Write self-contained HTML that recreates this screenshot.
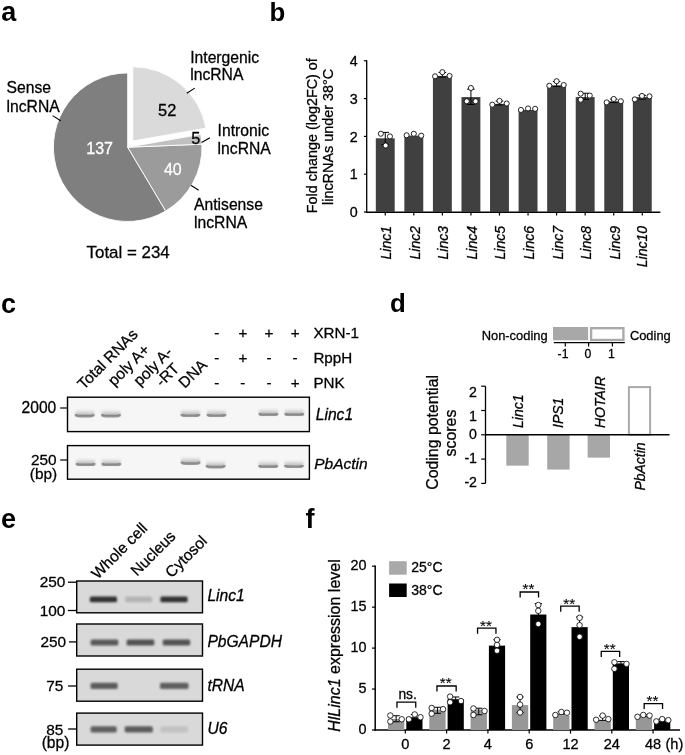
<!DOCTYPE html>
<html><head><meta charset="utf-8"><style>
html,body{margin:0;padding:0;background:#fff;}
svg{display:block;font-family:"Liberation Sans", sans-serif;will-change:transform;}
</style></head><body>
<svg width="685" height="755" viewBox="0 0 685 755">
<rect width="685" height="755" fill="#fff"/>
<text x="1.30" y="21.30" font-size="27" font-weight="bold">a</text>
<text x="269.40" y="21.30" font-size="25.8" font-weight="bold">b</text>
<text x="1.00" y="312.80" font-size="27" font-weight="bold">c</text>
<text x="389.90" y="312.30" font-size="25.8" font-weight="bold">d</text>
<text x="1.00" y="527.60" font-size="27" font-weight="bold">e</text>
<text x="305.50" y="527.80" font-size="27" font-weight="bold">f</text>
<path d="M127.70,147.20 L165.71,211.04 A74.3,74.3 0 1 1 127.70,72.90 Z" fill="#7f7f7f" stroke="#fff" stroke-width="0.9" stroke-linejoin="miter"/>
<path d="M127.70,147.20 L201.94,144.21 A74.3,74.3 0 0 1 165.71,211.04 Z" fill="#9b9b9b" stroke="#fff" stroke-width="0.9" stroke-linejoin="miter"/>
<path d="M127.70,147.20 L200.87,134.30 A74.3,74.3 0 0 1 201.94,144.21 Z" fill="#c0c0c0" stroke="#fff" stroke-width="0.9" stroke-linejoin="miter"/>
<path d="M132.84,141.07 L132.84,66.77 A74.3,74.3 0 0 1 206.01,128.17 Z" fill="#dadada" stroke="#fff" stroke-width="0.9" stroke-linejoin="miter"/>
<text x="6.50" y="93.20" font-size="15.7" stroke="#000" stroke-width="0.28">Sense</text>
<text x="6.50" y="111.90" font-size="15.7" stroke="#000" stroke-width="0.28">lncRNA</text>
<line x1="52.60" y1="115.60" x2="60.70" y2="120.70" stroke="#000" stroke-width="1.1"/>
<text x="190.20" y="62.60" font-size="15.7" stroke="#000" stroke-width="0.28">Intergenic</text>
<text x="190.20" y="80.20" font-size="15.7" stroke="#000" stroke-width="0.28">lncRNA</text>
<line x1="186.80" y1="93.20" x2="194.80" y2="88.10" stroke="#000" stroke-width="1.1"/>
<text x="217.60" y="136.00" font-size="15.7" stroke="#000" stroke-width="0.28">Intronic</text>
<text x="217.60" y="153.50" font-size="15.7" stroke="#000" stroke-width="0.28">lncRNA</text>
<line x1="201.60" y1="142.40" x2="209.90" y2="137.70" stroke="#000" stroke-width="1.1"/>
<text x="194.00" y="210.20" font-size="15.7" stroke="#000" stroke-width="0.28">Antisense</text>
<text x="194.00" y="228.00" font-size="15.7" stroke="#000" stroke-width="0.28">lncRNA</text>
<line x1="190.90" y1="185.20" x2="198.70" y2="190.30" stroke="#000" stroke-width="1.1"/>
<text x="167.20" y="116.00" font-size="16.4" stroke="#000" stroke-width="0.28" text-anchor="middle">52</text>
<text x="195.90" y="143.60" font-size="16.3" stroke="#000" stroke-width="0.28" text-anchor="middle">5</text>
<text x="99.60" y="154.10" font-size="16" stroke="#fff" stroke-width="0.28" text-anchor="middle" fill="#fff">137</text>
<text x="172.80" y="175.40" font-size="16" stroke="#fff" stroke-width="0.28" text-anchor="middle" fill="#fff">40</text>
<text x="86.60" y="257.60" font-size="16.9" stroke="#000" stroke-width="0.28">Total = 234</text>
<line x1="366.70" y1="60.20" x2="366.70" y2="213.00" stroke="#000" stroke-width="1.3"/>
<line x1="365.90" y1="212.30" x2="660.40" y2="212.30" stroke="#000" stroke-width="1.5"/>
<line x1="363.90" y1="212.00" x2="366.70" y2="212.00" stroke="#000" stroke-width="1.2"/>
<text x="357.60" y="217.10" font-size="14.3" stroke="#000" stroke-width="0.28" text-anchor="end">0</text>
<line x1="363.90" y1="174.20" x2="366.70" y2="174.20" stroke="#000" stroke-width="1.2"/>
<text x="357.60" y="179.30" font-size="14.3" stroke="#000" stroke-width="0.28" text-anchor="end">1</text>
<line x1="363.90" y1="136.40" x2="366.70" y2="136.40" stroke="#000" stroke-width="1.2"/>
<text x="357.60" y="141.50" font-size="14.3" stroke="#000" stroke-width="0.28" text-anchor="end">2</text>
<line x1="363.90" y1="98.60" x2="366.70" y2="98.60" stroke="#000" stroke-width="1.2"/>
<text x="357.60" y="103.70" font-size="14.3" stroke="#000" stroke-width="0.28" text-anchor="end">3</text>
<line x1="363.90" y1="60.80" x2="366.70" y2="60.80" stroke="#000" stroke-width="1.2"/>
<text x="357.60" y="65.90" font-size="14.3" stroke="#000" stroke-width="0.28" text-anchor="end">4</text>
<rect x="375.80" y="138.29" width="18.90" height="73.71" fill="#404040"/>
<line x1="385.25" y1="212.00" x2="385.25" y2="215.60" stroke="#000" stroke-width="1.2"/>
<line x1="385.25" y1="132.40" x2="385.25" y2="144.69" stroke="#000" stroke-width="1.0"/>
<line x1="381.45" y1="132.40" x2="389.05" y2="132.40" stroke="#000" stroke-width="1.0"/>
<line x1="381.45" y1="144.69" x2="389.05" y2="144.69" stroke="#000" stroke-width="1.0"/>
<circle cx="380.85" cy="133.75" r="2.55" fill="#fff" stroke="#000" stroke-width="0.85"/>
<circle cx="389.95" cy="136.40" r="2.55" fill="#fff" stroke="#000" stroke-width="0.85"/>
<circle cx="385.65" cy="145.47" r="2.55" fill="#fff" stroke="#000" stroke-width="0.85"/>
<text x="391.15" y="226.00" font-size="14" stroke="#000" stroke-width="0.28" text-anchor="end" font-style="italic" transform="rotate(-90 391.15 226.00)">Linc1</text>
<rect x="404.36" y="135.64" width="18.90" height="76.36" fill="#404040"/>
<line x1="413.81" y1="212.00" x2="413.81" y2="215.60" stroke="#000" stroke-width="1.2"/>
<circle cx="406.61" cy="135.27" r="2.55" fill="#fff" stroke="#000" stroke-width="0.85"/>
<circle cx="413.81" cy="133.75" r="2.55" fill="#fff" stroke="#000" stroke-width="0.85"/>
<circle cx="421.21" cy="135.64" r="2.55" fill="#fff" stroke="#000" stroke-width="0.85"/>
<text x="419.71" y="226.00" font-size="14" stroke="#000" stroke-width="0.28" text-anchor="end" font-style="italic" transform="rotate(-90 419.71 226.00)">Linc2</text>
<rect x="432.92" y="75.92" width="18.90" height="136.08" fill="#404040"/>
<line x1="442.37" y1="212.00" x2="442.37" y2="215.60" stroke="#000" stroke-width="1.2"/>
<line x1="442.37" y1="72.49" x2="442.37" y2="77.09" stroke="#000" stroke-width="1.0"/>
<line x1="438.57" y1="72.49" x2="446.17" y2="72.49" stroke="#000" stroke-width="1.0"/>
<line x1="438.57" y1="77.09" x2="446.17" y2="77.09" stroke="#000" stroke-width="1.0"/>
<circle cx="435.07" cy="76.30" r="2.55" fill="#fff" stroke="#000" stroke-width="0.85"/>
<circle cx="442.37" cy="72.14" r="2.55" fill="#fff" stroke="#000" stroke-width="0.85"/>
<circle cx="449.57" cy="75.92" r="2.55" fill="#fff" stroke="#000" stroke-width="0.85"/>
<text x="448.27" y="226.00" font-size="14" stroke="#000" stroke-width="0.28" text-anchor="end" font-style="italic" transform="rotate(-90 448.27 226.00)">Linc3</text>
<rect x="461.48" y="97.09" width="18.90" height="114.91" fill="#404040"/>
<line x1="470.93" y1="212.00" x2="470.93" y2="215.60" stroke="#000" stroke-width="1.2"/>
<line x1="470.93" y1="89.20" x2="470.93" y2="104.47" stroke="#000" stroke-width="1.0"/>
<line x1="467.13" y1="89.20" x2="474.73" y2="89.20" stroke="#000" stroke-width="1.0"/>
<line x1="467.13" y1="104.47" x2="474.73" y2="104.47" stroke="#000" stroke-width="1.0"/>
<circle cx="466.73" cy="101.25" r="2.55" fill="#fff" stroke="#000" stroke-width="0.85"/>
<circle cx="475.63" cy="101.25" r="2.55" fill="#fff" stroke="#000" stroke-width="0.85"/>
<circle cx="470.93" cy="88.02" r="2.55" fill="#fff" stroke="#000" stroke-width="0.85"/>
<text x="476.83" y="226.00" font-size="14" stroke="#000" stroke-width="0.28" text-anchor="end" font-style="italic" transform="rotate(-90 476.83 226.00)">Linc4</text>
<rect x="490.04" y="103.89" width="18.90" height="108.11" fill="#404040"/>
<line x1="499.49" y1="212.00" x2="499.49" y2="215.60" stroke="#000" stroke-width="1.2"/>
<line x1="499.49" y1="101.07" x2="499.49" y2="104.95" stroke="#000" stroke-width="1.0"/>
<line x1="495.69" y1="101.07" x2="503.29" y2="101.07" stroke="#000" stroke-width="1.0"/>
<line x1="495.69" y1="104.95" x2="503.29" y2="104.95" stroke="#000" stroke-width="1.0"/>
<circle cx="492.29" cy="104.65" r="2.55" fill="#fff" stroke="#000" stroke-width="0.85"/>
<circle cx="499.49" cy="100.87" r="2.55" fill="#fff" stroke="#000" stroke-width="0.85"/>
<circle cx="506.69" cy="103.51" r="2.55" fill="#fff" stroke="#000" stroke-width="0.85"/>
<text x="505.39" y="226.00" font-size="14" stroke="#000" stroke-width="0.28" text-anchor="end" font-style="italic" transform="rotate(-90 505.39 226.00)">Linc5</text>
<rect x="518.60" y="109.94" width="18.90" height="102.06" fill="#404040"/>
<line x1="528.05" y1="212.00" x2="528.05" y2="215.60" stroke="#000" stroke-width="1.2"/>
<circle cx="520.95" cy="109.94" r="2.55" fill="#fff" stroke="#000" stroke-width="0.85"/>
<circle cx="528.05" cy="108.43" r="2.55" fill="#fff" stroke="#000" stroke-width="0.85"/>
<circle cx="535.15" cy="108.81" r="2.55" fill="#fff" stroke="#000" stroke-width="0.85"/>
<text x="533.95" y="226.00" font-size="14" stroke="#000" stroke-width="0.28" text-anchor="end" font-style="italic" transform="rotate(-90 533.95 226.00)">Linc6</text>
<rect x="547.16" y="85.37" width="18.90" height="126.63" fill="#404040"/>
<line x1="556.61" y1="212.00" x2="556.61" y2="215.60" stroke="#000" stroke-width="1.2"/>
<line x1="556.61" y1="81.55" x2="556.61" y2="86.41" stroke="#000" stroke-width="1.0"/>
<line x1="552.81" y1="81.55" x2="560.41" y2="81.55" stroke="#000" stroke-width="1.0"/>
<line x1="552.81" y1="86.41" x2="560.41" y2="86.41" stroke="#000" stroke-width="1.0"/>
<circle cx="549.31" cy="85.75" r="2.55" fill="#fff" stroke="#000" stroke-width="0.85"/>
<circle cx="556.61" cy="81.21" r="2.55" fill="#fff" stroke="#000" stroke-width="0.85"/>
<circle cx="563.71" cy="84.99" r="2.55" fill="#fff" stroke="#000" stroke-width="0.85"/>
<text x="562.51" y="226.00" font-size="14" stroke="#000" stroke-width="0.28" text-anchor="end" font-style="italic" transform="rotate(-90 562.51 226.00)">Linc7</text>
<rect x="575.72" y="97.09" width="18.90" height="114.91" fill="#404040"/>
<line x1="585.17" y1="212.00" x2="585.17" y2="215.60" stroke="#000" stroke-width="1.2"/>
<line x1="585.17" y1="93.24" x2="585.17" y2="99.43" stroke="#000" stroke-width="1.0"/>
<line x1="581.37" y1="93.24" x2="588.97" y2="93.24" stroke="#000" stroke-width="1.0"/>
<line x1="581.37" y1="99.43" x2="588.97" y2="99.43" stroke="#000" stroke-width="1.0"/>
<circle cx="580.67" cy="93.69" r="2.55" fill="#fff" stroke="#000" stroke-width="0.85"/>
<circle cx="580.67" cy="99.73" r="2.55" fill="#fff" stroke="#000" stroke-width="0.85"/>
<circle cx="589.77" cy="95.58" r="2.55" fill="#fff" stroke="#000" stroke-width="0.85"/>
<text x="591.07" y="226.00" font-size="14" stroke="#000" stroke-width="0.28" text-anchor="end" font-style="italic" transform="rotate(-90 591.07 226.00)">Linc8</text>
<rect x="604.28" y="101.25" width="18.90" height="110.75" fill="#404040"/>
<line x1="613.73" y1="212.00" x2="613.73" y2="215.60" stroke="#000" stroke-width="1.2"/>
<line x1="613.73" y1="99.14" x2="613.73" y2="102.60" stroke="#000" stroke-width="1.0"/>
<line x1="609.93" y1="99.14" x2="617.53" y2="99.14" stroke="#000" stroke-width="1.0"/>
<line x1="609.93" y1="102.60" x2="617.53" y2="102.60" stroke="#000" stroke-width="1.0"/>
<circle cx="606.63" cy="102.38" r="2.55" fill="#fff" stroke="#000" stroke-width="0.85"/>
<circle cx="613.73" cy="98.98" r="2.55" fill="#fff" stroke="#000" stroke-width="0.85"/>
<circle cx="620.83" cy="101.25" r="2.55" fill="#fff" stroke="#000" stroke-width="0.85"/>
<text x="619.63" y="226.00" font-size="14" stroke="#000" stroke-width="0.28" text-anchor="end" font-style="italic" transform="rotate(-90 619.63 226.00)">Linc9</text>
<rect x="632.84" y="97.09" width="18.90" height="114.91" fill="#404040"/>
<line x1="642.29" y1="212.00" x2="642.29" y2="215.60" stroke="#000" stroke-width="1.2"/>
<line x1="642.29" y1="95.35" x2="642.29" y2="99.08" stroke="#000" stroke-width="1.0"/>
<line x1="638.49" y1="95.35" x2="646.09" y2="95.35" stroke="#000" stroke-width="1.0"/>
<line x1="638.49" y1="99.08" x2="646.09" y2="99.08" stroke="#000" stroke-width="1.0"/>
<circle cx="634.79" cy="99.36" r="2.55" fill="#fff" stroke="#000" stroke-width="0.85"/>
<circle cx="641.99" cy="95.95" r="2.55" fill="#fff" stroke="#000" stroke-width="0.85"/>
<circle cx="649.49" cy="96.33" r="2.55" fill="#fff" stroke="#000" stroke-width="0.85"/>
<text x="646.99" y="226.00" font-size="14" stroke="#000" stroke-width="0.28" text-anchor="end" font-style="italic" transform="rotate(-90 646.99 226.00)">Linc10</text>
<text x="317.20" y="135.70" font-size="14.4" stroke="#000" stroke-width="0.28" text-anchor="middle" transform="rotate(-90 317.20 135.70)">Fold change (log2FC) of</text>
<text x="332.80" y="136.90" font-size="14.4" stroke="#000" stroke-width="0.28" text-anchor="middle" transform="rotate(-90 332.80 136.90)">lincRNAs under 38°C</text>
<defs><filter id="bl" x="-20%" y="-100%" width="140%" height="300%"><feGaussianBlur stdDeviation="0.6"/></filter><filter id="bl2" x="-20%" y="-100%" width="140%" height="300%"><feGaussianBlur stdDeviation="0.9"/></filter><filter id="bl4" x="-20%" y="-100%" width="140%" height="300%"><feGaussianBlur stdDeviation="1.3"/></filter><filter id="bl5" x="-20%" y="-100%" width="140%" height="300%"><feGaussianBlur stdDeviation="0.45"/></filter><filter id="bl3" x="-20%" y="-100%" width="140%" height="300%"><feGaussianBlur stdDeviation="0.85"/></filter><linearGradient id="bg1" x1="0" y1="0" x2="0" y2="1"><stop offset="0" stop-color="#000" stop-opacity="0"/><stop offset="0.2" stop-color="#000" stop-opacity="0.04"/><stop offset="0.6" stop-color="#000" stop-opacity="0.17"/><stop offset="1" stop-color="#000" stop-opacity="0.32"/></linearGradient></defs>
<rect x="67.50" y="397.20" width="241.90" height="34.40" fill="#f6f6f6" stroke="#000" stroke-width="1.4"/>
<rect x="67.50" y="445.60" width="241.90" height="33.60" fill="#f6f6f6" stroke="#000" stroke-width="1.4"/>
<rect x="75.20" y="409.20" width="19.00" height="7.00" rx="2" fill="url(#bg1)" filter="url(#bl3)"/>
<path d="M76.10,415.30 Q77.10,416.20 80.90,416.20 H88.50 Q92.30,416.20 93.30,415.30" fill="none" stroke="#000" stroke-opacity="0.33" stroke-width="2.8" stroke-linecap="round" filter="url(#bl5)"/>
<rect x="101.50" y="409.20" width="19.00" height="7.00" rx="2" fill="url(#bg1)" filter="url(#bl3)"/>
<path d="M102.40,415.30 Q103.40,416.20 107.20,416.20 H114.80 Q118.60,416.20 119.60,415.30" fill="none" stroke="#000" stroke-opacity="0.33" stroke-width="2.8" stroke-linecap="round" filter="url(#bl5)"/>
<rect x="180.90" y="408.80" width="19.00" height="7.00" rx="2" fill="url(#bg1)" filter="url(#bl3)"/>
<path d="M181.80,414.90 Q182.80,415.80 186.60,415.80 H194.20 Q198.00,415.80 199.00,414.90" fill="none" stroke="#000" stroke-opacity="0.33" stroke-width="2.8" stroke-linecap="round" filter="url(#bl5)"/>
<rect x="207.00" y="408.80" width="19.00" height="7.00" rx="2" fill="url(#bg1)" filter="url(#bl3)"/>
<path d="M207.90,414.90 Q208.90,415.80 212.70,415.80 H220.30 Q224.10,415.80 225.10,414.90" fill="none" stroke="#000" stroke-opacity="0.33" stroke-width="2.8" stroke-linecap="round" filter="url(#bl5)"/>
<rect x="258.90" y="408.00" width="19.00" height="7.00" rx="2" fill="url(#bg1)" filter="url(#bl3)"/>
<path d="M259.80,414.10 Q260.80,415.00 264.60,415.00 H272.20 Q276.00,415.00 277.00,414.10" fill="none" stroke="#000" stroke-opacity="0.33" stroke-width="2.8" stroke-linecap="round" filter="url(#bl5)"/>
<rect x="284.80" y="408.00" width="19.00" height="7.00" rx="2" fill="url(#bg1)" filter="url(#bl3)"/>
<path d="M285.70,414.10 Q286.70,415.00 290.50,415.00 H298.10 Q301.90,415.00 302.90,414.10" fill="none" stroke="#000" stroke-opacity="0.33" stroke-width="2.8" stroke-linecap="round" filter="url(#bl5)"/>
<rect x="76.10" y="458.00" width="19.00" height="7.00" rx="2" fill="url(#bg1)" filter="url(#bl3)"/>
<path d="M77.00,464.10 Q78.00,465.00 81.80,465.00 H89.40 Q93.20,465.00 94.20,464.10" fill="none" stroke="#000" stroke-opacity="0.33" stroke-width="2.8" stroke-linecap="round" filter="url(#bl5)"/>
<rect x="101.80" y="458.00" width="19.00" height="7.00" rx="2" fill="url(#bg1)" filter="url(#bl3)"/>
<path d="M102.70,464.10 Q103.70,465.00 107.50,465.00 H115.10 Q118.90,465.00 119.90,464.10" fill="none" stroke="#000" stroke-opacity="0.33" stroke-width="2.8" stroke-linecap="round" filter="url(#bl5)"/>
<rect x="181.10" y="456.60" width="19.00" height="7.00" rx="2" fill="url(#bg1)" filter="url(#bl3)"/>
<path d="M182.00,462.70 Q183.00,463.60 186.80,463.60 H194.40 Q198.20,463.60 199.20,462.70" fill="none" stroke="#000" stroke-opacity="0.33" stroke-width="2.8" stroke-linecap="round" filter="url(#bl5)"/>
<rect x="206.10" y="460.20" width="19.00" height="7.00" rx="2" fill="url(#bg1)" filter="url(#bl3)"/>
<path d="M207.00,466.30 Q208.00,467.20 211.80,467.20 H219.40 Q223.20,467.20 224.20,466.30" fill="none" stroke="#000" stroke-opacity="0.33" stroke-width="2.8" stroke-linecap="round" filter="url(#bl5)"/>
<rect x="258.70" y="460.00" width="19.00" height="7.00" rx="2" fill="url(#bg1)" filter="url(#bl3)"/>
<path d="M259.60,466.10 Q260.60,467.00 264.40,467.00 H272.00 Q275.80,467.00 276.80,466.10" fill="none" stroke="#000" stroke-opacity="0.33" stroke-width="2.8" stroke-linecap="round" filter="url(#bl5)"/>
<rect x="284.50" y="459.80" width="19.00" height="7.00" rx="2" fill="url(#bg1)" filter="url(#bl3)"/>
<path d="M285.40,465.90 Q286.40,466.80 290.20,466.80 H297.80 Q301.60,466.80 302.60,465.90" fill="none" stroke="#000" stroke-opacity="0.33" stroke-width="2.8" stroke-linecap="round" filter="url(#bl5)"/>
<line x1="60.20" y1="408.00" x2="67.50" y2="408.00" stroke="#000" stroke-width="1.2"/>
<text x="56.30" y="413.20" font-size="15.6" stroke="#000" stroke-width="0.28" text-anchor="end">2000</text>
<line x1="60.20" y1="460.00" x2="67.50" y2="460.00" stroke="#000" stroke-width="1.2"/>
<text x="56.60" y="465.00" font-size="15.4" stroke="#000" stroke-width="0.28" text-anchor="end">250</text>
<text x="57.20" y="478.60" font-size="15.4" stroke="#000" stroke-width="0.28" text-anchor="end">(bp)</text>
<text x="315.80" y="419.70" font-size="15.6" stroke="#000" stroke-width="0.28" font-style="italic">Linc1</text>
<text x="314.20" y="468.80" font-size="15.5" stroke="#000" stroke-width="0.28" font-style="italic">PbActin</text>
<text x="83.80" y="390.20" font-size="15.5" stroke="#000" stroke-width="0.28" transform="rotate(-45 83.80 390.20)">Total RNAs</text>
<text x="114.30" y="386.80" font-size="15.5" stroke="#000" stroke-width="0.28" transform="rotate(-45 114.30 386.80)">poly A+</text>
<text x="139.80" y="386.80" font-size="15.5" stroke="#000" stroke-width="0.28" transform="rotate(-45 139.80 386.80)">poly A-</text>
<text x="162.10" y="387.50" font-size="15.5" stroke="#000" stroke-width="0.28" transform="rotate(-45 162.10 387.50)">-RT</text>
<text x="184.80" y="389.00" font-size="15.5" stroke="#000" stroke-width="0.28" transform="rotate(-45 184.80 389.00)">DNA</text>
<text x="216.80" y="338.20" font-size="15.2" stroke="#000" stroke-width="0.28" text-anchor="middle">-</text>
<text x="242.90" y="338.20" font-size="15.2" stroke="#000" stroke-width="0.28" text-anchor="middle">+</text>
<text x="269.00" y="338.20" font-size="15.2" stroke="#000" stroke-width="0.28" text-anchor="middle">+</text>
<text x="295.10" y="338.20" font-size="15.2" stroke="#000" stroke-width="0.28" text-anchor="middle">+</text>
<text x="313.40" y="338.20" font-size="15.2" stroke="#000" stroke-width="0.28">XRN-1</text>
<text x="216.80" y="362.90" font-size="15.2" stroke="#000" stroke-width="0.28" text-anchor="middle">-</text>
<text x="242.90" y="362.90" font-size="15.2" stroke="#000" stroke-width="0.28" text-anchor="middle">+</text>
<text x="269.00" y="362.90" font-size="15.2" stroke="#000" stroke-width="0.28" text-anchor="middle">-</text>
<text x="295.10" y="362.90" font-size="15.2" stroke="#000" stroke-width="0.28" text-anchor="middle">-</text>
<text x="313.40" y="362.90" font-size="15.2" stroke="#000" stroke-width="0.28">RppH</text>
<text x="216.80" y="388.30" font-size="15.2" stroke="#000" stroke-width="0.28" text-anchor="middle">-</text>
<text x="242.90" y="388.30" font-size="15.2" stroke="#000" stroke-width="0.28" text-anchor="middle">-</text>
<text x="269.00" y="388.30" font-size="15.2" stroke="#000" stroke-width="0.28" text-anchor="middle">-</text>
<text x="295.10" y="388.30" font-size="15.2" stroke="#000" stroke-width="0.28" text-anchor="middle">+</text>
<text x="313.40" y="388.30" font-size="15.2" stroke="#000" stroke-width="0.28">PNK</text>
<rect x="553.00" y="327.00" width="35.10" height="13.30" fill="#a8a8a8"/>
<rect x="591.10" y="328.20" width="32.30" height="11.80" fill="#fff" stroke="#aaaaaa" stroke-width="2.4"/>
<line x1="553.80" y1="342.60" x2="624.80" y2="342.60" stroke="#000" stroke-width="1.4"/>
<line x1="565.30" y1="342.60" x2="565.30" y2="346.60" stroke="#000" stroke-width="1.2"/>
<line x1="588.60" y1="342.60" x2="588.60" y2="346.60" stroke="#000" stroke-width="1.2"/>
<line x1="612.40" y1="342.60" x2="612.40" y2="346.60" stroke="#000" stroke-width="1.2"/>
<text x="563.00" y="358.30" font-size="12.2" stroke="#000" stroke-width="0.28" text-anchor="middle">-1</text>
<text x="587.80" y="358.30" font-size="12.2" stroke="#000" stroke-width="0.28" text-anchor="middle">0</text>
<text x="611.50" y="358.30" font-size="12.2" stroke="#000" stroke-width="0.28" text-anchor="middle">1</text>
<text x="547.60" y="340.10" font-size="12.9" stroke="#000" stroke-width="0.28" text-anchor="end">Non-coding</text>
<text x="629.90" y="339.60" font-size="12.9" stroke="#000" stroke-width="0.28">Coding</text>
<line x1="485.50" y1="386.20" x2="485.50" y2="483.40" stroke="#000" stroke-width="1.3"/>
<line x1="481.20" y1="386.20" x2="485.50" y2="386.20" stroke="#000" stroke-width="1.2"/>
<text x="477.00" y="396.70" font-size="14.2" stroke="#000" stroke-width="0.28" text-anchor="end">2</text>
<line x1="481.20" y1="410.50" x2="485.50" y2="410.50" stroke="#000" stroke-width="1.2"/>
<text x="477.00" y="420.50" font-size="14.2" stroke="#000" stroke-width="0.28" text-anchor="end">1</text>
<line x1="481.20" y1="434.80" x2="485.50" y2="434.80" stroke="#000" stroke-width="1.2"/>
<text x="477.00" y="438.80" font-size="14.2" stroke="#000" stroke-width="0.28" text-anchor="end">0</text>
<line x1="481.20" y1="459.10" x2="485.50" y2="459.10" stroke="#000" stroke-width="1.2"/>
<text x="477.00" y="463.10" font-size="14.2" stroke="#000" stroke-width="0.28" text-anchor="end">-1</text>
<line x1="481.20" y1="483.40" x2="485.50" y2="483.40" stroke="#000" stroke-width="1.2"/>
<text x="477.00" y="487.40" font-size="14.2" stroke="#000" stroke-width="0.28" text-anchor="end">-2</text>
<rect x="506.30" y="434.80" width="22.40" height="30.86" fill="#a7a7a7"/>
<rect x="547.20" y="434.80" width="22.40" height="34.75" fill="#a7a7a7"/>
<rect x="587.60" y="434.80" width="22.40" height="22.84" fill="#a7a7a7"/>
<rect x="628.90" y="387.10" width="21.20" height="47.70" fill="none" stroke="#aaaaaa" stroke-width="2"/>
<line x1="485.50" y1="434.80" x2="669.50" y2="434.80" stroke="#000" stroke-width="1.5"/>
<text x="522.90" y="428.00" font-size="14.0" stroke="#000" stroke-width="0.28" font-style="italic" transform="rotate(-90 522.90 428.00)">Linc1</text>
<text x="563.00" y="428.00" font-size="14.0" stroke="#000" stroke-width="0.28" font-style="italic" transform="rotate(-90 563.00 428.00)">IPS1</text>
<text x="605.00" y="428.00" font-size="14.0" stroke="#000" stroke-width="0.28" font-style="italic" transform="rotate(-90 605.00 428.00)">HOTAIR</text>
<text x="644.80" y="490.60" font-size="14.0" stroke="#000" stroke-width="0.28" font-style="italic" transform="rotate(-90 644.80 490.60)">PbActin</text>
<text x="438.20" y="432.40" font-size="15.9" stroke="#000" stroke-width="0.28" text-anchor="middle" transform="rotate(-90 438.20 432.40)">Coding potential</text>
<text x="455.80" y="433.00" font-size="15.9" stroke="#000" stroke-width="0.28" text-anchor="middle" transform="rotate(-90 455.80 433.00)">scores</text>
<rect x="76.70" y="581.00" width="125.80" height="31.80" fill="#d9d9d9" stroke="#000" stroke-width="1.4"/>
<rect x="76.70" y="624.00" width="125.80" height="32.00" fill="#d9d9d9" stroke="#000" stroke-width="1.4"/>
<rect x="76.70" y="669.20" width="125.80" height="32.00" fill="#d9d9d9" stroke="#000" stroke-width="1.4"/>
<rect x="76.70" y="713.10" width="125.80" height="32.00" fill="#d9d9d9" stroke="#000" stroke-width="1.4"/>
<rect x="89.80" y="596.45" width="27.20" height="5.90" rx="1.5" fill="#303030" filter="url(#bl2)"/>
<rect x="125.10" y="596.60" width="27.20" height="5.60" rx="1.5" fill="#b4b4b4" filter="url(#bl2)"/>
<rect x="160.40" y="596.45" width="27.20" height="5.90" rx="1.5" fill="#303030" filter="url(#bl2)"/>
<rect x="90.60" y="639.60" width="27.70" height="6.00" rx="1.5" fill="#585858" filter="url(#bl2)"/>
<rect x="126.60" y="639.60" width="27.70" height="6.00" rx="1.5" fill="#535353" filter="url(#bl2)"/>
<rect x="162.70" y="639.60" width="27.50" height="6.00" rx="1.5" fill="#535353" filter="url(#bl2)"/>
<rect x="90.60" y="682.80" width="27.10" height="6.20" rx="1.5" fill="#5c5c5c" filter="url(#bl4)"/>
<rect x="160.00" y="682.80" width="28.50" height="6.20" rx="1.5" fill="#5e5e5e" filter="url(#bl4)"/>
<rect x="90.60" y="726.20" width="26.10" height="6.20" rx="1.5" fill="#5e5e5e" filter="url(#bl4)"/>
<rect x="124.70" y="726.20" width="28.10" height="6.20" rx="1.5" fill="#5c5c5c" filter="url(#bl4)"/>
<rect x="160.40" y="726.20" width="27.50" height="6.20" rx="1.5" fill="#c2c2c2" filter="url(#bl4)"/>
<line x1="67.90" y1="582.20" x2="76.70" y2="582.20" stroke="#000" stroke-width="1.3"/>
<text x="65.40" y="587.40" font-size="15.4" stroke="#000" stroke-width="0.28" text-anchor="end">250</text>
<line x1="67.90" y1="610.50" x2="76.70" y2="610.50" stroke="#000" stroke-width="1.3"/>
<text x="65.40" y="615.70" font-size="15.4" stroke="#000" stroke-width="0.28" text-anchor="end">100</text>
<line x1="69.00" y1="641.90" x2="76.70" y2="641.90" stroke="#000" stroke-width="1.3"/>
<text x="66.10" y="647.10" font-size="15.4" stroke="#000" stroke-width="0.28" text-anchor="end">250</text>
<line x1="68.10" y1="686.00" x2="76.70" y2="686.00" stroke="#000" stroke-width="1.3"/>
<text x="63.30" y="691.20" font-size="15.4" stroke="#000" stroke-width="0.28" text-anchor="end">75</text>
<line x1="68.10" y1="729.00" x2="76.70" y2="729.00" stroke="#000" stroke-width="1.3"/>
<text x="63.30" y="735.00" font-size="15.4" stroke="#000" stroke-width="0.28" text-anchor="end">85</text>
<text x="69.40" y="748.00" font-size="15.6" stroke="#000" stroke-width="0.28" text-anchor="end">(bp)</text>
<text x="207.40" y="601.10" font-size="15.6" stroke="#000" stroke-width="0.28" font-style="italic">Linc1</text>
<text x="207.40" y="647.20" font-size="15.6" stroke="#000" stroke-width="0.28" font-style="italic">PbGAPDH</text>
<text x="207.40" y="691.30" font-size="15.6" stroke="#000" stroke-width="0.28" font-style="italic">tRNA</text>
<text x="207.40" y="733.70" font-size="15.6" stroke="#000" stroke-width="0.28" font-style="italic">U6</text>
<text x="97.70" y="579.80" font-size="15.5" stroke="#000" stroke-width="0.28" transform="rotate(-45 97.70 579.80)">Whole cell</text>
<text x="137.00" y="576.80" font-size="15.5" stroke="#000" stroke-width="0.28" transform="rotate(-45 137.00 576.80)">Nucleus</text>
<text x="171.50" y="578.50" font-size="15.5" stroke="#000" stroke-width="0.28" transform="rotate(-45 171.50 578.50)">Cytosol</text>
<line x1="375.20" y1="565.60" x2="375.20" y2="730.75" stroke="#000" stroke-width="1.5"/>
<line x1="374.40" y1="730.00" x2="680.00" y2="730.00" stroke="#000" stroke-width="1.6"/>
<line x1="372.00" y1="730.00" x2="375.20" y2="730.00" stroke="#000" stroke-width="1.2"/>
<text x="366.40" y="734.20" font-size="14.4" stroke="#000" stroke-width="0.28" text-anchor="end">0</text>
<line x1="372.00" y1="689.05" x2="375.20" y2="689.05" stroke="#000" stroke-width="1.2"/>
<text x="366.40" y="693.25" font-size="14.4" stroke="#000" stroke-width="0.28" text-anchor="end">5</text>
<line x1="372.00" y1="648.10" x2="375.20" y2="648.10" stroke="#000" stroke-width="1.2"/>
<text x="366.40" y="652.30" font-size="14.4" stroke="#000" stroke-width="0.28" text-anchor="end">10</text>
<line x1="372.00" y1="607.15" x2="375.20" y2="607.15" stroke="#000" stroke-width="1.2"/>
<text x="366.40" y="611.35" font-size="14.4" stroke="#000" stroke-width="0.28" text-anchor="end">15</text>
<line x1="372.00" y1="566.20" x2="375.20" y2="566.20" stroke="#000" stroke-width="1.2"/>
<text x="366.40" y="570.40" font-size="14.4" stroke="#000" stroke-width="0.28" text-anchor="end">20</text>
<rect x="388.00" y="719.03" width="16.30" height="10.97" fill="#979797"/>
<line x1="396.15" y1="715.73" x2="396.15" y2="721.78" stroke="#000" stroke-width="1.0"/>
<line x1="392.55" y1="715.73" x2="399.75" y2="715.73" stroke="#000" stroke-width="1.0"/>
<line x1="392.55" y1="721.78" x2="399.75" y2="721.78" stroke="#000" stroke-width="1.0"/>
<circle cx="390.35" cy="715.50" r="2.75" fill="#fff" stroke="#000" stroke-width="0.8"/>
<circle cx="390.35" cy="721.48" r="2.75" fill="#fff" stroke="#000" stroke-width="0.8"/>
<circle cx="401.75" cy="719.27" r="2.75" fill="#fff" stroke="#000" stroke-width="0.8"/>
<rect x="406.30" y="717.22" width="16.20" height="12.78" fill="#000"/>
<line x1="414.40" y1="714.55" x2="414.40" y2="719.40" stroke="#000" stroke-width="1.0"/>
<line x1="410.80" y1="714.55" x2="418.00" y2="714.55" stroke="#000" stroke-width="1.0"/>
<line x1="410.80" y1="719.40" x2="418.00" y2="719.40" stroke="#000" stroke-width="1.0"/>
<circle cx="408.90" cy="719.27" r="2.75" fill="#fff" stroke="#000" stroke-width="0.8"/>
<circle cx="414.70" cy="714.44" r="2.75" fill="#fff" stroke="#000" stroke-width="0.8"/>
<circle cx="420.50" cy="717.22" r="2.75" fill="#fff" stroke="#000" stroke-width="0.8"/>
<line x1="405.30" y1="730.00" x2="405.30" y2="733.60" stroke="#000" stroke-width="1.2"/>
<text x="405.30" y="749.40" font-size="14.6" stroke="#000" stroke-width="0.28" text-anchor="middle">0</text>
<path d="M396.95,707.70 V702.20 H415.75 V707.70" fill="none" stroke="#000" stroke-width="1.3"/>
<text x="407.60" y="699.30" font-size="13.8" stroke="#000" stroke-width="0.28" text-anchor="middle">ns.</text>
<rect x="429.30" y="709.69" width="16.30" height="20.31" fill="#979797"/>
<line x1="437.45" y1="707.27" x2="437.45" y2="713.31" stroke="#000" stroke-width="1.0"/>
<line x1="433.85" y1="707.27" x2="441.05" y2="707.27" stroke="#000" stroke-width="1.0"/>
<line x1="433.85" y1="713.31" x2="441.05" y2="713.31" stroke="#000" stroke-width="1.0"/>
<circle cx="431.65" cy="707.97" r="2.75" fill="#fff" stroke="#000" stroke-width="0.8"/>
<circle cx="431.65" cy="713.70" r="2.75" fill="#fff" stroke="#000" stroke-width="0.8"/>
<circle cx="443.05" cy="709.20" r="2.75" fill="#fff" stroke="#000" stroke-width="0.8"/>
<rect x="447.60" y="699.21" width="16.20" height="30.79" fill="#000"/>
<line x1="455.70" y1="696.97" x2="455.70" y2="702.91" stroke="#000" stroke-width="1.0"/>
<line x1="452.10" y1="696.97" x2="459.30" y2="696.97" stroke="#000" stroke-width="1.0"/>
<line x1="452.10" y1="702.91" x2="459.30" y2="702.91" stroke="#000" stroke-width="1.0"/>
<circle cx="450.10" cy="696.58" r="2.75" fill="#fff" stroke="#000" stroke-width="0.8"/>
<circle cx="450.10" cy="702.24" r="2.75" fill="#fff" stroke="#000" stroke-width="0.8"/>
<circle cx="461.00" cy="701.01" r="2.75" fill="#fff" stroke="#000" stroke-width="0.8"/>
<line x1="446.60" y1="730.00" x2="446.60" y2="733.60" stroke="#000" stroke-width="1.2"/>
<text x="446.60" y="749.40" font-size="14.6" stroke="#000" stroke-width="0.28" text-anchor="middle">2</text>
<path d="M436.95,691.50 V686.00 H456.15 V691.50" fill="none" stroke="#000" stroke-width="1.3"/>
<text x="445.75" y="688.40" font-size="15.3" stroke="#000" stroke-width="0.1" text-anchor="middle">**</text>
<rect x="470.60" y="709.52" width="16.30" height="20.48" fill="#979797"/>
<line x1="478.75" y1="708.19" x2="478.75" y2="714.79" stroke="#000" stroke-width="1.0"/>
<line x1="475.15" y1="708.19" x2="482.35" y2="708.19" stroke="#000" stroke-width="1.0"/>
<line x1="475.15" y1="714.79" x2="482.35" y2="714.79" stroke="#000" stroke-width="1.0"/>
<circle cx="473.45" cy="708.46" r="2.75" fill="#fff" stroke="#000" stroke-width="0.8"/>
<circle cx="473.45" cy="715.01" r="2.75" fill="#fff" stroke="#000" stroke-width="0.8"/>
<circle cx="484.55" cy="711.00" r="2.75" fill="#fff" stroke="#000" stroke-width="0.8"/>
<rect x="488.90" y="645.64" width="16.20" height="84.36" fill="#000"/>
<line x1="497.00" y1="639.70" x2="497.00" y2="650.60" stroke="#000" stroke-width="1.0"/>
<line x1="493.40" y1="639.70" x2="500.60" y2="639.70" stroke="#000" stroke-width="1.0"/>
<line x1="493.40" y1="650.60" x2="500.60" y2="650.60" stroke="#000" stroke-width="1.0"/>
<circle cx="497.00" cy="639.83" r="2.75" fill="#fff" stroke="#000" stroke-width="0.8"/>
<circle cx="497.00" cy="644.91" r="2.75" fill="#fff" stroke="#000" stroke-width="0.8"/>
<circle cx="497.00" cy="650.72" r="2.75" fill="#fff" stroke="#000" stroke-width="0.8"/>
<line x1="487.90" y1="730.00" x2="487.90" y2="733.60" stroke="#000" stroke-width="1.2"/>
<text x="487.90" y="749.40" font-size="14.6" stroke="#000" stroke-width="0.28" text-anchor="middle">4</text>
<path d="M477.55,633.70 V628.20 H495.95 V633.70" fill="none" stroke="#000" stroke-width="1.3"/>
<text x="485.95" y="630.60" font-size="15.3" stroke="#000" stroke-width="0.1" text-anchor="middle">**</text>
<rect x="511.90" y="705.10" width="16.30" height="24.90" fill="#979797"/>
<line x1="520.05" y1="696.95" x2="520.05" y2="712.43" stroke="#000" stroke-width="1.0"/>
<line x1="516.45" y1="696.95" x2="523.65" y2="696.95" stroke="#000" stroke-width="1.0"/>
<line x1="516.45" y1="712.43" x2="523.65" y2="712.43" stroke="#000" stroke-width="1.0"/>
<circle cx="520.05" cy="696.99" r="2.75" fill="#fff" stroke="#000" stroke-width="0.8"/>
<circle cx="520.05" cy="704.61" r="2.75" fill="#fff" stroke="#000" stroke-width="0.8"/>
<circle cx="520.05" cy="712.47" r="2.75" fill="#fff" stroke="#000" stroke-width="0.8"/>
<rect x="530.20" y="614.52" width="16.20" height="115.48" fill="#000"/>
<line x1="538.30" y1="603.56" x2="538.30" y2="623.03" stroke="#000" stroke-width="1.0"/>
<line x1="534.70" y1="603.56" x2="541.90" y2="603.56" stroke="#000" stroke-width="1.0"/>
<line x1="534.70" y1="623.03" x2="541.90" y2="623.03" stroke="#000" stroke-width="1.0"/>
<circle cx="538.30" cy="605.02" r="2.75" fill="#fff" stroke="#000" stroke-width="0.8"/>
<circle cx="538.30" cy="610.84" r="2.75" fill="#fff" stroke="#000" stroke-width="0.8"/>
<circle cx="538.30" cy="624.02" r="2.75" fill="#fff" stroke="#000" stroke-width="0.8"/>
<line x1="529.20" y1="730.00" x2="529.20" y2="733.60" stroke="#000" stroke-width="1.2"/>
<text x="529.20" y="749.40" font-size="14.6" stroke="#000" stroke-width="0.28" text-anchor="middle">6</text>
<path d="M520.15,597.50 V592.00 H538.55 V597.50" fill="none" stroke="#000" stroke-width="1.3"/>
<text x="528.55" y="594.40" font-size="15.3" stroke="#000" stroke-width="0.1" text-anchor="middle">**</text>
<rect x="553.20" y="715.83" width="16.30" height="14.17" fill="#979797"/>
<line x1="561.35" y1="711.66" x2="561.35" y2="714.82" stroke="#000" stroke-width="1.0"/>
<line x1="557.75" y1="711.66" x2="564.95" y2="711.66" stroke="#000" stroke-width="1.0"/>
<line x1="557.75" y1="714.82" x2="564.95" y2="714.82" stroke="#000" stroke-width="1.0"/>
<circle cx="555.35" cy="715.01" r="2.75" fill="#fff" stroke="#000" stroke-width="0.8"/>
<circle cx="561.35" cy="711.98" r="2.75" fill="#fff" stroke="#000" stroke-width="0.8"/>
<circle cx="566.95" cy="712.72" r="2.75" fill="#fff" stroke="#000" stroke-width="0.8"/>
<rect x="571.50" y="627.13" width="16.20" height="102.87" fill="#000"/>
<line x1="579.60" y1="617.01" x2="579.60" y2="636.17" stroke="#000" stroke-width="1.0"/>
<line x1="576.00" y1="617.01" x2="583.20" y2="617.01" stroke="#000" stroke-width="1.0"/>
<line x1="576.00" y1="636.17" x2="583.20" y2="636.17" stroke="#000" stroke-width="1.0"/>
<circle cx="579.60" cy="617.80" r="2.75" fill="#fff" stroke="#000" stroke-width="0.8"/>
<circle cx="579.60" cy="625.17" r="2.75" fill="#fff" stroke="#000" stroke-width="0.8"/>
<circle cx="579.60" cy="636.80" r="2.75" fill="#fff" stroke="#000" stroke-width="0.8"/>
<line x1="570.50" y1="730.00" x2="570.50" y2="733.60" stroke="#000" stroke-width="1.2"/>
<text x="570.50" y="749.40" font-size="14.6" stroke="#000" stroke-width="0.28" text-anchor="middle">12</text>
<path d="M560.75,611.70 V606.20 H579.15 V611.70" fill="none" stroke="#000" stroke-width="1.3"/>
<text x="569.15" y="608.60" font-size="15.3" stroke="#000" stroke-width="0.1" text-anchor="middle">**</text>
<rect x="594.50" y="720.83" width="16.30" height="9.17" fill="#979797"/>
<line x1="602.65" y1="715.91" x2="602.65" y2="720.40" stroke="#000" stroke-width="1.0"/>
<line x1="599.05" y1="715.91" x2="606.25" y2="715.91" stroke="#000" stroke-width="1.0"/>
<line x1="599.05" y1="720.40" x2="606.25" y2="720.40" stroke="#000" stroke-width="1.0"/>
<circle cx="596.15" cy="719.76" r="2.75" fill="#fff" stroke="#000" stroke-width="0.8"/>
<circle cx="602.65" cy="715.59" r="2.75" fill="#fff" stroke="#000" stroke-width="0.8"/>
<circle cx="608.35" cy="719.11" r="2.75" fill="#fff" stroke="#000" stroke-width="0.8"/>
<rect x="612.80" y="663.42" width="16.20" height="66.58" fill="#000"/>
<line x1="620.90" y1="661.59" x2="620.90" y2="668.41" stroke="#000" stroke-width="1.0"/>
<line x1="617.30" y1="661.59" x2="624.50" y2="661.59" stroke="#000" stroke-width="1.0"/>
<line x1="617.30" y1="668.41" x2="624.50" y2="668.41" stroke="#000" stroke-width="1.0"/>
<circle cx="614.40" cy="662.27" r="2.75" fill="#fff" stroke="#000" stroke-width="0.8"/>
<circle cx="614.40" cy="668.82" r="2.75" fill="#fff" stroke="#000" stroke-width="0.8"/>
<circle cx="626.50" cy="663.91" r="2.75" fill="#fff" stroke="#000" stroke-width="0.8"/>
<line x1="611.80" y1="730.00" x2="611.80" y2="733.60" stroke="#000" stroke-width="1.2"/>
<text x="611.80" y="749.40" font-size="14.6" stroke="#000" stroke-width="0.28" text-anchor="middle">24</text>
<path d="M601.25,656.90 V651.40 H619.65 V656.90" fill="none" stroke="#000" stroke-width="1.3"/>
<text x="609.65" y="653.80" font-size="15.3" stroke="#000" stroke-width="0.1" text-anchor="middle">**</text>
<rect x="635.80" y="717.22" width="16.30" height="12.78" fill="#979797"/>
<line x1="643.95" y1="714.82" x2="643.95" y2="716.73" stroke="#000" stroke-width="1.0"/>
<line x1="640.35" y1="714.82" x2="647.55" y2="714.82" stroke="#000" stroke-width="1.0"/>
<line x1="640.35" y1="716.73" x2="647.55" y2="716.73" stroke="#000" stroke-width="1.0"/>
<circle cx="637.45" cy="716.81" r="2.75" fill="#fff" stroke="#000" stroke-width="0.8"/>
<circle cx="643.25" cy="714.93" r="2.75" fill="#fff" stroke="#000" stroke-width="0.8"/>
<circle cx="649.55" cy="715.59" r="2.75" fill="#fff" stroke="#000" stroke-width="0.8"/>
<rect x="654.10" y="721.40" width="16.20" height="8.60" fill="#000"/>
<line x1="662.20" y1="719.08" x2="662.20" y2="721.37" stroke="#000" stroke-width="1.0"/>
<line x1="658.60" y1="719.08" x2="665.80" y2="719.08" stroke="#000" stroke-width="1.0"/>
<line x1="658.60" y1="721.37" x2="665.80" y2="721.37" stroke="#000" stroke-width="1.0"/>
<circle cx="656.30" cy="721.40" r="2.75" fill="#fff" stroke="#000" stroke-width="0.8"/>
<circle cx="662.20" cy="719.11" r="2.75" fill="#fff" stroke="#000" stroke-width="0.8"/>
<circle cx="668.30" cy="720.17" r="2.75" fill="#fff" stroke="#000" stroke-width="0.8"/>
<line x1="653.10" y1="730.00" x2="653.10" y2="733.60" stroke="#000" stroke-width="1.2"/>
<text x="653.10" y="749.40" font-size="14.6" stroke="#000" stroke-width="0.28" text-anchor="middle">48</text>
<path d="M644.15,709.10 V703.60 H662.55 V709.10" fill="none" stroke="#000" stroke-width="1.3"/>
<text x="652.55" y="706.00" font-size="15.3" stroke="#000" stroke-width="0.1" text-anchor="middle">**</text>
<text x="665.50" y="749.40" font-size="14.6" stroke="#000" stroke-width="0.28">(h)</text>
<rect x="389.10" y="561.20" width="17.60" height="13.50" fill="#a9a9a9"/>
<rect x="389.10" y="583.50" width="17.60" height="13.50" fill="#000"/>
<text x="411.30" y="572.40" font-size="14.0" stroke="#000" stroke-width="0.28">25°C</text>
<text x="411.30" y="594.60" font-size="14.0" stroke="#000" stroke-width="0.28">38°C</text>
<text x="340.0" y="645.5" font-size="16" stroke="#000" stroke-width="0.28" text-anchor="middle" transform="rotate(-90 340.0 645.5)"><tspan font-style="italic">HlLinc1</tspan> expression level</text>
</svg></body></html>
